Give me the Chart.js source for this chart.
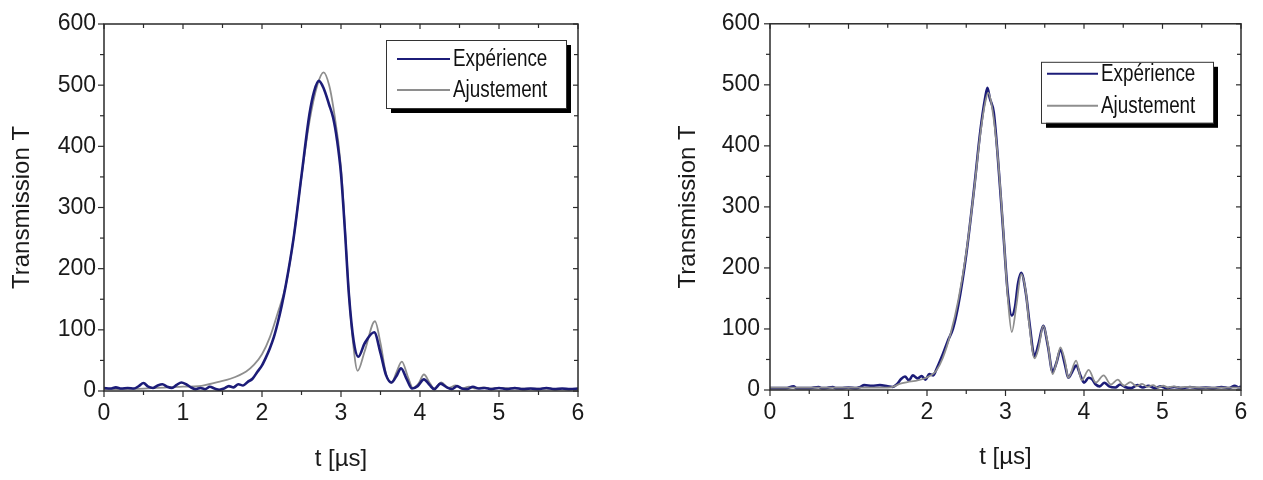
<!DOCTYPE html>
<html lang="fr">
<head>
<meta charset="utf-8">
<title>Transmission T</title>
<script src="https://cdn.jsdelivr.net/npm/chart.js@4.4.1/dist/chart.umd.min.js"></script>
<style>
  html, body { margin: 0; padding: 0; background: #fff; }
  #page { position: relative; width: 1263px; height: 480px; overflow: hidden; }
  canvas { position: absolute; top: 0; }
  #chart-gauche { left: 0; }
  #chart-droite { left: 631px; }
</style>
</head>
<body>
<div id="page">
  <canvas id="chart-gauche" width="631" height="480"></canvas>
  <canvas id="chart-droite" width="632" height="480"></canvas>
</div>
<script>
// Graduations communes aux deux graphes
const ticksX = [0, 1, 2, 3, 4, 5, 6];
const ticksY = [0, 100, 200, 300, 400, 500, 600];
const libelles = ['Expérience', 'Ajustement'];

// Graphe de gauche : mesure (Expérience) et ajustement
const tExpG = [0,0.08,0.15,0.22,0.3,0.38,0.44,0.5,0.56,0.62,
  0.68,0.74,0.8,0.86,0.92,0.98,1.04,1.1,1.16,1.22,
  1.28,1.34,1.4,1.46,1.52,1.58,1.64,1.7,1.76,1.82,
  1.88,1.94,2.0,2.05,2.1,2.15,2.2,2.25,2.3,2.4,
  2.5,2.6,2.66,2.72,2.78,2.85,2.9,2.95,3.0,3.05,
  3.1,3.16,3.22,3.3,3.42,3.5,3.57,3.64,3.7,3.76,
  3.83,3.9,3.97,4.05,4.12,4.18,4.26,4.34,4.4,4.47,
  4.53,4.6,4.67,4.74,4.82,4.9,5.0,5.1,5.2,5.3,
  5.4,5.5,5.6,5.7,5.8,5.9,6.0];
const expG = [5,4,6,4,5,4,8,13,7,5,
  9,11,7,5,10,14,11,6,3,5,
  3,7,4,2,4,8,6,11,9,15,
  20,31,42,55,70,88,112,140,172,250,
  352,452,490,507,495,468,447,410,355,262,
  158,82,56,78,96,62,26,14,24,37,
  20,4,8,19,10,3,12,6,3,8,
  4,3,7,4,5,3,5,3,5,3,
  4,3,5,3,4,3,4];
const tAjustG = [0,0.5,1.0,1.2,1.45,1.6,1.8,1.9,2.0,2.1,
  2.2,2.3,2.4,2.5,2.6,2.7,2.78,2.85,2.9,3.0,
  3.1,3.15,3.21,3.3,3.43,3.5,3.57,3.64,3.7,3.77,
  3.85,3.91,3.98,4.05,4.12,4.18,4.27,4.36,4.45,4.53,
  4.62,4.7,4.8,4.9,5.0,5.2,5.5,6.0];
const ajustG = [3,4,7,8,15,20,32,43,60,88,
  128,172,250,350,440,500,521,500,466,365,
  160,82,33,65,114,78,28,13,30,48,
  22,5,12,27,14,4,14,5,9,4,
  7,4,6,4,5,4,4,3];

// Graphe de droite
const tExpD = [0,0.2,0.3,0.34,0.5,0.62,0.66,0.7,0.8,0.84,
  0.9,1.0,1.1,1.15,1.2,1.3,1.4,1.5,1.56,1.62,
  1.67,1.72,1.77,1.82,1.88,1.93,1.98,2.03,2.08,2.12,
  2.2,2.27,2.33,2.4,2.5,2.6,2.68,2.74,2.77,2.8,
  2.85,2.9,2.97,3.03,3.08,3.12,3.16,3.2,3.26,3.31,
  3.37,3.42,3.48,3.54,3.6,3.65,3.7,3.76,3.8,3.85,
  3.9,3.96,4.0,4.06,4.1,4.15,4.2,4.26,4.32,4.4,
  4.46,4.52,4.6,4.68,4.75,4.82,4.9,4.98,5.05,5.15,
  5.25,5.35,5.45,5.55,5.65,5.75,5.85,5.92,5.97,6.0];
const expD = [3,3,6,3,3,5,3,3,5,3,
  3,4,3,5,8,7,8,6,5,10,
  18,22,16,24,19,23,17,26,24,34,
  58,82,100,140,222,330,425,478,495,478,
  455,385,262,158,122,135,175,192,158,105,
  55,75,105,72,30,45,66,40,20,30,
  40,22,12,20,18,9,6,12,6,4,
  9,5,3,8,4,7,3,6,3,5,
  3,5,3,4,3,5,3,7,4,6];
const tAjustD = [0,0.5,1.0,1.5,1.58,1.65,1.75,1.85,1.95,2.05,
  2.12,2.2,2.3,2.4,2.5,2.6,2.68,2.74,2.78,2.83,
  2.9,2.97,3.03,3.08,3.14,3.2,3.26,3.3,3.37,3.42,
  3.48,3.54,3.6,3.65,3.7,3.76,3.8,3.9,3.97,4.06,
  4.15,4.25,4.34,4.43,4.51,4.59,4.67,4.74,4.81,4.88,
  4.94,5.01,5.07,5.14,5.22,5.3,5.5,6.0];
const ajustD = [4,4,4,4,6,10,13,15,18,24,
  32,52,92,148,225,328,420,470,487,462,
  385,265,150,95,140,190,160,110,52,68,
  105,75,26,45,70,46,20,48,16,33,
  12,24,9,17,7,13,6,10,5,8,
  4,7,4,6,4,5,4,4];

const POLICE = '"Liberation Sans", Arial, sans-serif';
const BLEU = '#1c1c78';
const GRIS = '#8e8e8e';

const points = (ts, vs) => ts.map((t, i) => ({ x: t, y: vs[i] }));

// Cadre complet + graduations (majeures et mineures)
const cadre = {
  id: 'cadre',
  afterDraw(chart) {
    const { ctx, chartArea: a, scales: { x, y } } = chart;
    ctx.save();
    ctx.strokeStyle = '#2a2a2a';
    ctx.lineWidth = 1.5;
    ctx.strokeRect(a.left, a.top, a.width, a.height);
    ctx.lineWidth = 1.2;
    const trait = (x1, y1, x2, y2) => { ctx.beginPath(); ctx.moveTo(x1, y1); ctx.lineTo(x2, y2); ctx.stroke(); };
    for (let i = 0; i < ticksX.length; i++) {
      const v = ticksX[i];
      const px = x.getPixelForValue(v);
      trait(px, a.bottom, px, a.bottom + 6);
      trait(px, a.top, px, a.top + 5);
      if (i < ticksX.length - 1) {
        const pm = x.getPixelForValue((v + ticksX[i + 1]) / 2);
        trait(pm, a.bottom, pm, a.bottom + 4);
        trait(pm, a.top, pm, a.top + 4);
      }
    }
    for (let i = 0; i < ticksY.length; i++) {
      const v = ticksY[i];
      const py = y.getPixelForValue(v);
      trait(a.left - 6, py, a.left, py);
      trait(a.right - 5, py, a.right, py);
      if (i < ticksY.length - 1) {
        const pm = y.getPixelForValue((v + ticksY[i + 1]) / 2);
        trait(a.left - 4, pm, a.left, pm);
        trait(a.right - 4, pm, a.right, pm);
      }
    }
    ctx.restore();
  }
};

// Légende encadrée avec ombre portée
const legendeCadre = {
  id: 'legendeCadre',
  afterDraw(chart, args, o) {
    const { ctx, chartArea: a } = chart;
    const bx = a.right - o.droite - o.largeur;
    const by = a.top + o.haut;
    ctx.save();
    ctx.fillStyle = '#000';
    ctx.fillRect(bx + 5, by + 5, o.largeur, o.hauteur);
    ctx.fillStyle = '#fff';
    ctx.fillRect(bx, by, o.largeur, o.hauteur);
    ctx.strokeStyle = '#333';
    ctx.lineWidth = 1;
    ctx.strokeRect(bx + 0.5, by + 0.5, o.largeur, o.hauteur);
    libelles.forEach((lib, i) => {
      const ds = chart.data.datasets.find(d => d.label === lib);
      const ly = by + o.premiere + i * o.interligne;
      ctx.strokeStyle = ds.borderColor;
      ctx.lineWidth = 2;
      ctx.beginPath();
      ctx.moveTo(bx + o.marge, ly);
      ctx.lineTo(bx + o.marge + o.trait, ly);
      ctx.stroke();
      ctx.save();
      ctx.translate(bx + o.marge + o.trait + 3, ly);
      ctx.scale(0.82, 1);
      ctx.fillStyle = '#111';
      ctx.font = '23px ' + POLICE;
      ctx.textBaseline = 'middle';
      ctx.fillText(lib, 0, 1);
      ctx.restore();
    });
    ctx.restore();
  }
};

function creerGraphe(id, exp, ajust, cfg) {
  const policeTicks = { family: POLICE, size: 23 };
  const policeTitre = { family: POLICE, size: 24 };
  return new Chart(document.getElementById(id), {
    type: 'line',
    data: {
      datasets: [
        { label: 'Expérience', data: exp, borderColor: BLEU, borderWidth: 2.6,
          pointRadius: 0, cubicInterpolationMode: 'monotone', order: cfg.ordreExp },
        { label: 'Ajustement', data: ajust, borderColor: GRIS, borderWidth: 1.8,
          pointRadius: 0, cubicInterpolationMode: 'monotone', order: cfg.ordreAjust }
      ]
    },
    options: {
      responsive: false,
      animation: false,
      events: [],
      layout: { padding: cfg.padding },
      plugins: {
        legend: { display: false },
        tooltip: { enabled: false },
        legendeCadre: cfg.legende
      },
      scales: {
        x: {
          type: 'linear', min: 0, max: 6,
          afterBuildTicks: s => { s.ticks = ticksX.map(v => ({ value: v })); },
          afterFit: s => { s.height = cfg.hauteurX; },
          grid: { display: false, drawTicks: false }, border: { display: false },
          ticks: { font: policeTicks, color: '#1a1a1a', padding: 9, maxRotation: 0 },
          title: { display: true, text: 't [µs]', font: policeTitre, color: '#1a1a1a',
                   padding: { top: 0, bottom: cfg.titreX } }
        },
        y: {
          type: 'linear', min: 0, max: 600,
          afterBuildTicks: s => { s.ticks = ticksY.map(v => ({ value: v })); },
          afterFit: s => { s.width = cfg.largeurY; },
          grid: { display: false, drawTicks: false }, border: { display: false },
          ticks: { font: policeTicks, color: '#1a1a1a', padding: cfg.padTicksY },
          title: { display: true, text: 'Transmission T', font: policeTitre, color: '#1a1a1a',
                   padding: { top: cfg.titreY, bottom: 0 } }
        }
      }
    },
    plugins: [cadre, legendeCadre]
  });
}

creerGraphe('chart-gauche', points(tExpG, expG), points(tAjustG, ajustG), {
  padding: { left: 0, top: 24, right: 53, bottom: 0 },
  largeurY: 104, hauteurX: 89, padTicksY: 8, titreY: 7.5, titreX: 6.5,
  ordreExp: 0, ordreAjust: 1,
  legende: { droite: 12, largeur: 180, haut: 16, hauteur: 68, marge: 11, trait: 53, premiere: 19, interligne: 31 }
});

creerGraphe('chart-droite', points(tExpD, expD), points(tAjustD, ajustD), {
  padding: { left: 0, top: 18, right: 22, bottom: 0 },
  largeurY: 139, hauteurX: 90, padTicksY: 10, titreY: 42.5, titreX: 8.5,
  ordreExp: 1, ordreAjust: 0,
  legende: { droite: 28, largeur: 172, haut: 38, hauteur: 61, marge: 6, trait: 51, premiere: 12, interligne: 32 }
});
</script>
</body>
</html>
